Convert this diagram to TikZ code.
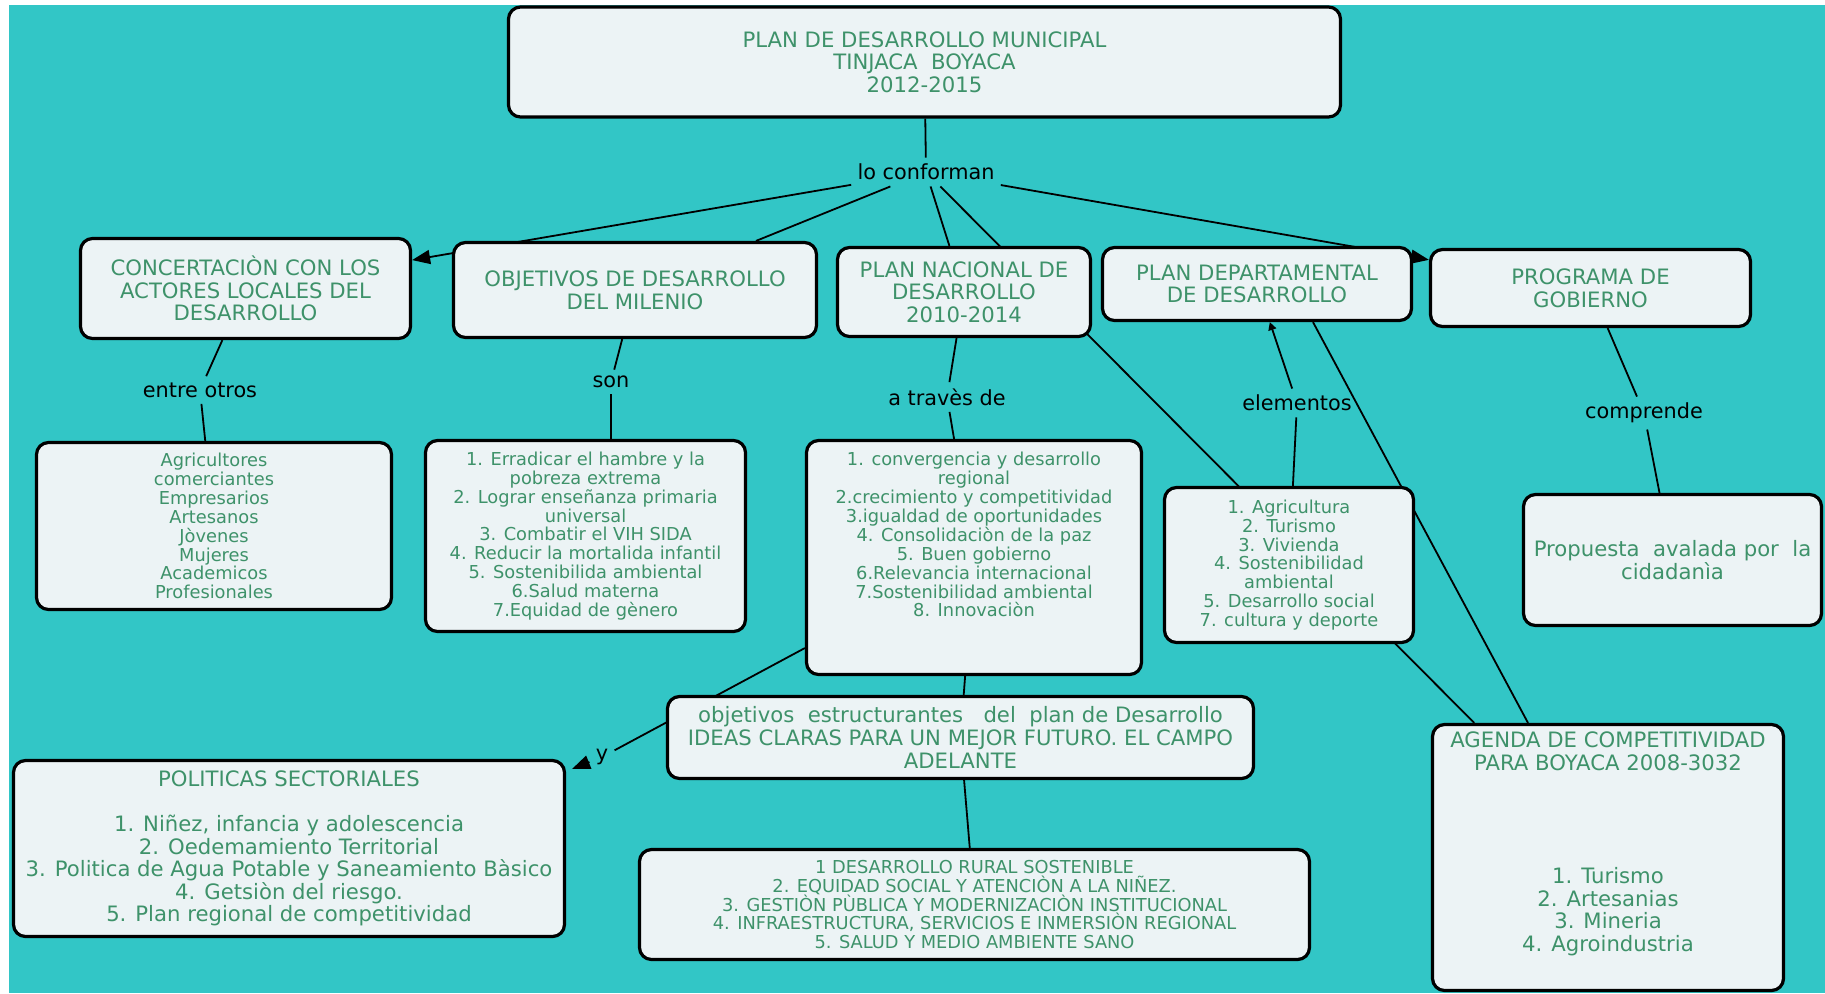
\documentclass[tikz,border=0pt]{standalone}
\usepackage{fontspec}
\setmainfont{DejaVu Sans}
\usetikzlibrary{arrows.meta}
\definecolor{turquesa}{RGB}{50,198,198}
\definecolor{relleno}{RGB}{236,243,245}
\definecolor{verde}{RGB}{62,146,106}
\newcommand\grande{\fontsize{10.6}{11.3}\selectfont}
\newcommand\chica{\fontsize{8.9}{9.45}\selectfont}
\pgfdeclarelayer{fondo}
\pgfdeclarelayer{lineas}
\pgfsetlayers{fondo,lineas,main}
\begin{document}
	\begin{tikzpicture}[x=0.5pt,y=-0.5pt,
		caja/.style={draw=black,line width=1.6pt,rounded corners=6pt,fill=relleno,text=verde,align=center,inner sep=2pt,font=\grande},
		lista/.style={caja,font=\chica},
		enlace/.style={text=black,inner sep=3pt,font=\fontsize{10.4}{12}\selectfont},
		linea/.style={line width=0.9pt},
		flecha/.style={linea,-{Triangle[length=9pt,width=7pt]}}]
		\useasboundingbox (0,0) rectangle (1825,993);
		\begin{pgfonlayer}{fondo}
			\fill[turquesa] (9,5) rectangle (1825,993);
		\end{pgfonlayer}
		\node[caja,minimum width=416pt,minimum height=55pt] (titulo) at (924.5,62) {PLAN DE DESARROLLO MUNICIPAL\\TINJACA\ \ BOYACA\\2012-2015};
		\node[enlace] (conforman) at (926,172) {lo conforman};
		\node[caja,minimum width=165pt,minimum height=50pt] (concert) at (245.5,288.5) {CONCERTACIÒN CON LOS\\ACTORES LOCALES DEL\\DESARROLLO};
		\node[caja,minimum width=181.5pt,minimum height=47.5pt] (odm) at (635,290) {OBJETIVOS DE DESARROLLO\\DEL MILENIO};
		\node[caja,minimum width=126.5pt,minimum height=44.5pt] (pnd) at (964,292) {PLAN NACIONAL DE\\DESARROLLO\\2010-2014};
		\node[caja,minimum width=154.5pt,minimum height=36.5pt] (pdd) at (1257,284) {PLAN DEPARTAMENTAL\\DE DESARROLLO};
		\node[caja,minimum width=160pt,minimum height=38.5pt] (progob) at (1590.5,288) {PROGRAMA DE\\GOBIERNO};
		\node[enlace] (entreotros) at (200,390) {entre otros};
		\node[enlace] (son) at (611,382) {son};
		\node[enlace] (atraves) at (947,397) {a travès de};
		\node[enlace] (elementos) at (1297,403) {elementos};
		\node[enlace] (comprende) at (1644,413) {comprende};
		\node[lista,minimum width=177.5pt,minimum height=83.5pt] (actores) at (214,526) {Agricultores\\comerciantes\\Empresarios\\Artesanos\\Jòvenes\\Mujeres\\Academicos\\Profesionales};
		\node[lista,minimum width=160pt,minimum height=95.5pt] (metas) at (585.5,536) {1. Erradicar el hambre y la\\pobreza extrema\\2. Lograr enseñanza primaria\\universal\\3. Combatir el VIH SIDA\\4. Reducir la mortalida infantil\\5. Sostenibilida ambiental\\6.Salud materna\\7.Equidad de gènero};
		\node[lista,minimum width=167.5pt,minimum height=117pt] (pilares) at (974,557.5) {1. convergencia y desarrollo\\regional\\2.crecimiento y competitividad\\3.igualdad de oportunidades\\4. Consolidaciòn de la paz\\5. Buen gobierno\\6.Relevancia internacional\\7.Sostenibilidad ambiental\\8. Innovaciòn\\[13.5pt]\null};
		\node[lista,minimum width=124.5pt,minimum height=77.5pt] (sectores) at (1289,565) {1. Agricultura\\2. Turismo\\3. Vivienda\\4. Sostenibilidad\\ambiental\\5. Desarrollo social\\7. cultura y deporte};
		\node[caja,minimum width=149pt,minimum height=65.5pt] (propuesta) at (1672.5,560) {Propuesta\ \ avalada por\ \ la\\cidadanìa};
		\node[caja,minimum width=293pt,minimum height=41pt] (estruct) at (960.5,737.5) {objetivos\ \ estructurantes\ \ \ del\ \ plan de Desarrollo\\IDEAS CLARAS PARA UN MEJOR FUTURO. EL CAMPO\\ADELANTE};
		\node[enlace] (y) at (602,757) {y};
		\node[caja,minimum width=275.5pt,minimum height=88pt] (politicas) at (289,848.5) {POLITICAS SECTORIALES\\[11.3pt]1. Niñez, infancia y adolescencia\\2. Oedemamiento Territorial\\3. Politica de Agua Potable y Saneamiento Bàsico\\4. Getsiòn del riesgo.\\5. Plan regional de competitividad};
		\node[lista,minimum width=335pt,minimum height=55pt] (ejes) at (974.5,904.5) {1 DESARROLLO RURAL SOSTENIBLE\\2. EQUIDAD SOCIAL Y ATENCIÒN A LA NIÑEZ.\\3. GESTIÒN PÙBLICA Y MODERNIZACIÒN INSTITUCIONAL\\4. INFRAESTRUCTURA, SERVICIOS E INMERSIÒN REGIONAL\\5. SALUD Y MEDIO AMBIENTE SANO};
		\node[caja,minimum width=175.5pt,minimum height=133pt] (agenda) at (1608,857.5) {AGENDA DE COMPETITIVIDAD\\PARA BOYACA 2008-3032\\[45.2pt]1. Turismo\\2. Artesanias\\3. Mineria\\4. Agroindustria\\[4.5pt]\null};
		\begin{pgfonlayer}{lineas}
			\draw[linea] (titulo) -- (conforman);
			\draw[flecha] (conforman) -- (concert);
			\draw[linea] (conforman) -- (odm);
			\draw[linea] (conforman) -- (pnd);
			\draw[linea] (conforman) -- (agenda);
			\draw[flecha] (conforman) -- (progob);
			\draw[linea] (concert) -- (entreotros);
			\draw[linea] (entreotros) -- (actores);
			\draw[linea] (odm) -- (son);
			\draw[linea] (son) -- (metas.north -| son);
			\draw[linea] (pnd) -- (atraves);
			\draw[linea] (atraves) -- (pilares);
			\draw[linea,-{Triangle[length=4pt,width=4pt]}] (elementos) -- (pdd);
			\draw[linea] (elementos) -- (sectores);
			\draw[linea] ([xshift=28pt]pdd.south) -- ([xshift=-40pt]agenda.north);
			\draw[linea] (progob) -- (comprende);
			\draw[linea] (comprende) -- (propuesta);
			\draw[linea] (pilares) -- (estruct);
			\draw[linea] (estruct) -- (ejes);
			\draw[linea] (pilares) -- (y);
			\draw[flecha] (y) -- ([xshift=3pt,yshift=-5pt]politicas.north east);
		\end{pgfonlayer}
	\end{tikzpicture}
\end{document}
